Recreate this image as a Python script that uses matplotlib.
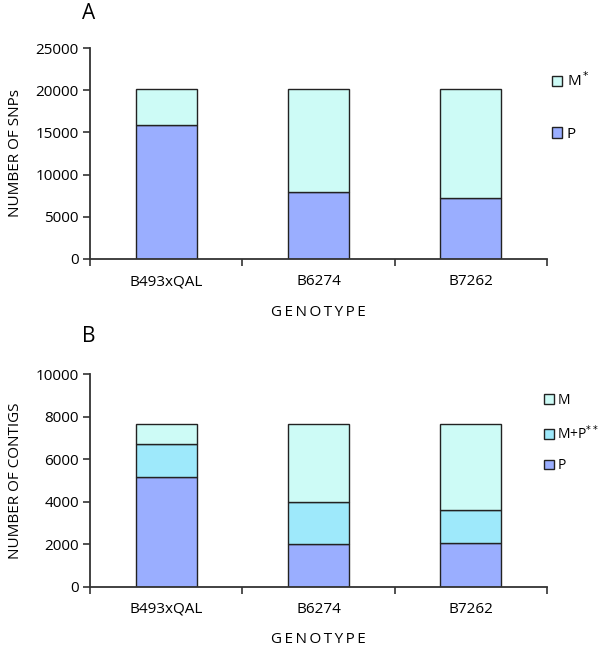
import matplotlib.pyplot as plt
from matplotlib.patches import Patch

plt.rcParams['font.family'] = ['Open Sans', 'DejaVu Sans']
plt.rcParams['font.size'] = 11

genotypes = ['B493xQAL', 'B6274', 'B7262']

# panel A: SNPs
snp_p = [15900, 7900, 7200]
snp_m = [4200, 12200, 12900]

# panel B: contigs
contig_p = [5150, 2000, 2040]
contig_mp = [1580, 2000, 1560]
contig_m = [920, 3650, 4050]

c_p = '#9aaeff'
c_mp = '#9ee9fb'
c_m = '#cdfbf6'
edge = '#222222'
axis_col = '#333333'

xlabel = '\u2009'.join('GENOTYPE')


def style_axes(ax, ymax, step):
    ax.set_xlim(-0.5, len(genotypes) - 0.5)
    ax.set_ylim(0, ymax)
    ax.set_yticks(range(0, ymax + 1, step))
    ax.set_xticks(range(len(genotypes)))
    ax.set_xticklabels(genotypes)
    ax.set_xticks([i - 0.5 for i in range(len(genotypes) + 1)], minor=True)
    ax.tick_params(axis='x', which='major', length=0, pad=11)
    ax.tick_params(axis='x', which='minor', length=5, width=1.2, color=axis_col)
    ax.tick_params(axis='y', length=5, width=1.2, color=axis_col, pad=3)
    for s in ['top', 'right']:
        ax.spines[s].set_visible(False)
    for s in ['left', 'bottom']:
        ax.spines[s].set_color(axis_col)
        ax.spines[s].set_linewidth(1.3)
    ax.set_xlabel(xlabel, labelpad=11)


fig = plt.figure(figsize=(6, 6.54), dpi=100)

# panel A
ax1 = fig.add_axes([0.15, 0.604, 0.7617, 0.3226])
x = range(len(genotypes))
ax1.bar(x, snp_p, width=0.4, color=c_p, edgecolor=edge, linewidth=1)
ax1.bar(x, snp_m, width=0.4, bottom=snp_p, color=c_m, edgecolor=edge, linewidth=1)
style_axes(ax1, 25000, 5000)
ax1.set_ylabel('NUMBER OF SNPs', labelpad=9)
fig.text(0.137, 0.98, 'A', fontsize=15, va='center')
ax1.legend(handles=[Patch(facecolor=c_m, edgecolor=edge, label='M$^*$'),
                    Patch(facecolor=c_p, edgecolor=edge, label='P')],
           loc='upper left', bbox_to_anchor=(544 / 600, 1 - 64 / 654),
           bbox_transform=fig.transFigure, frameon=False, borderpad=0,
           handlelength=0.7, handleheight=0.7, handletextpad=0.3,
           labelspacing=2.4)

# panel B
ax2 = fig.add_axes([0.15, 0.1029, 0.7617, 0.3252])
bottom_mp = [p for p in contig_p]
bottom_m = [p + mp for p, mp in zip(contig_p, contig_mp)]
ax2.bar(x, contig_p, width=0.4, color=c_p, edgecolor=edge, linewidth=1)
ax2.bar(x, contig_mp, width=0.4, bottom=bottom_mp, color=c_mp, edgecolor=edge, linewidth=1)
ax2.bar(x, contig_m, width=0.4, bottom=bottom_m, color=c_m, edgecolor=edge, linewidth=1)
style_axes(ax2, 10000, 2000)
ax2.set_ylabel('NUMBER OF CONTIGS', labelpad=9)
fig.text(0.137, 0.485, 'B', fontsize=15, va='center')
ax2.legend(handles=[Patch(facecolor=c_m, edgecolor=edge, label='M'),
                    Patch(facecolor=c_mp, edgecolor=edge, label='M+P$^{**}$'),
                    Patch(facecolor=c_p, edgecolor=edge, label='P')],
           loc='upper left', bbox_to_anchor=(537 / 600, 1 - 386 / 654),
           bbox_transform=fig.transFigure, frameon=False, borderpad=0,
           handlelength=0.7, handleheight=0.7, handletextpad=0.25,
           labelspacing=1.15, fontsize=10)

fig.savefig('out.png', dpi=100)
